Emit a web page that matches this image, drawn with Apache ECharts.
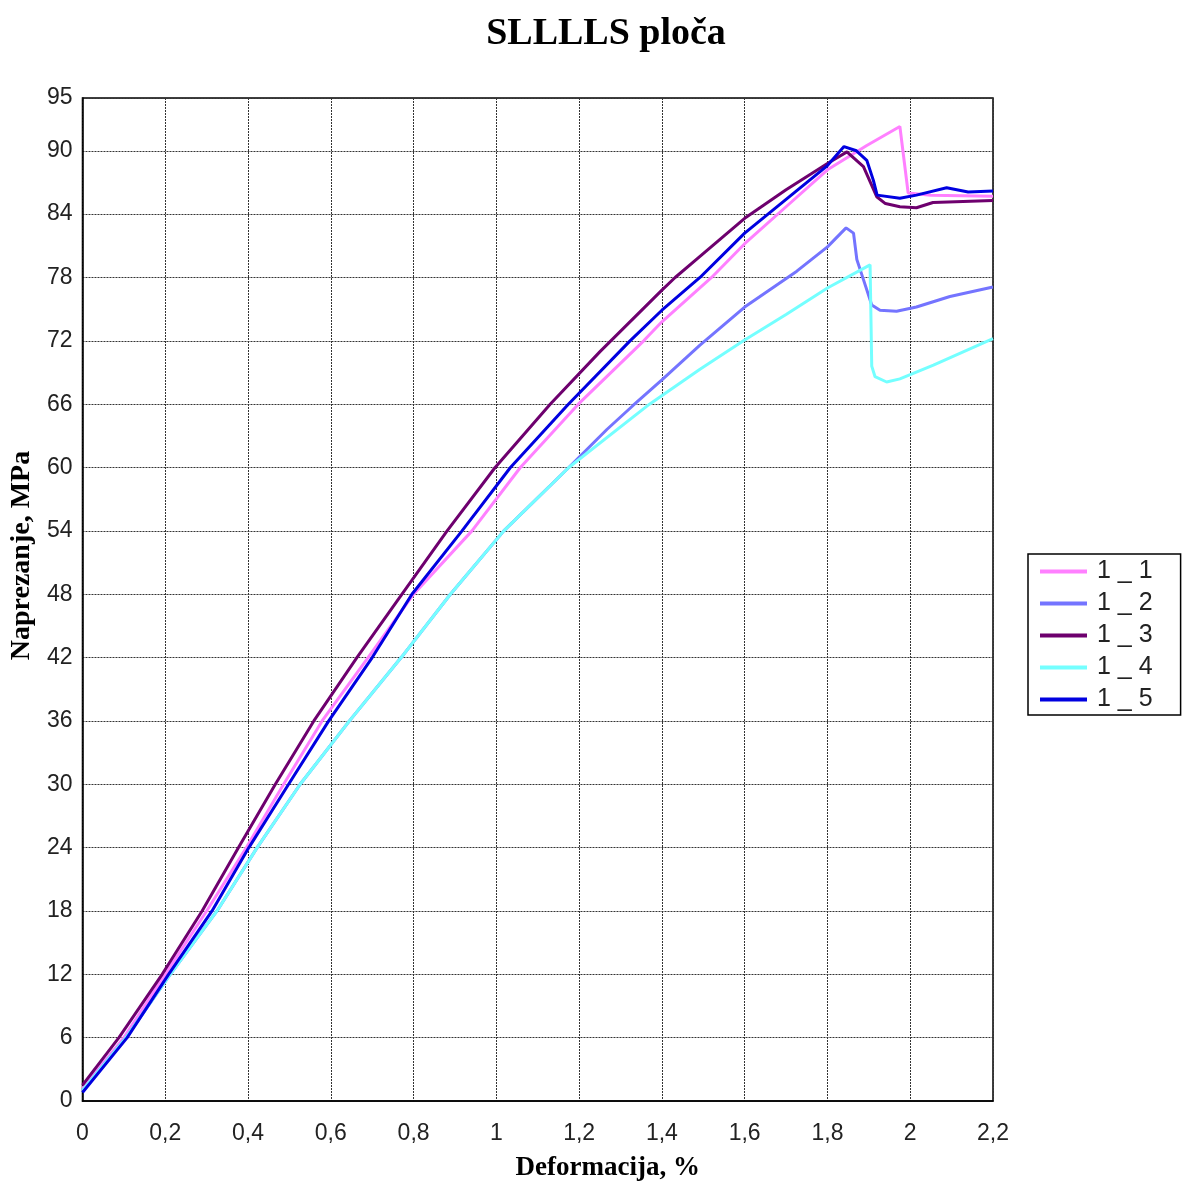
<!DOCTYPE html>
<html>
<head>
<meta charset="utf-8">
<script src="https://cdn.jsdelivr.net/npm/echarts@6/dist/echarts.min.js"></script>
<style>html,body{margin:0;padding:0;background:#fff;}#c{width:1183px;height:1187px;}</style>
</head>
<body>
<div id="c"></div>
<script>
// Series names
const seriesNames = ['1 _ 1', '1 _ 2', '1 _ 3', '1 _ 4', '1 _ 5'];
// Strain (%) and stress (MPa) per specimen
const x11 = [0, 0.1, 0.2, 0.30, 0.396, 0.486, 0.579, 0.69, 0.80, 0.941, 1.058, 1.198, 1.356, 1.4, 1.52, 1.6, 1.7, 1.8, 1.895, 1.975, 1.995, 2.05, 2.2];
const y11 = [1.2, 6, 12, 18, 24, 30, 36, 42, 48, 54, 60, 66, 72, 73.8, 78, 81.2, 84.7, 88.2, 90.5, 92.3, 86.0, 85.8, 85.7];
const x12 = [0, 0.105, 0.212, 0.325, 0.422, 0.526, 0.645, 0.77, 0.889, 1.018, 1.175, 1.267, 1.331, 1.4, 1.492, 1.6, 1.726, 1.8, 1.845, 1.863, 1.871, 1.887, 1.907, 1.927, 1.967, 2.015, 2.096, 2.2];
const y12 = [1.0, 6, 12, 18, 24, 30, 36, 42, 48, 54, 60, 63.6, 65.9, 68.3, 71.6, 75.2, 78.6, 80.9, 82.7, 82.2, 79.7, 77.8, 75.4, 74.9, 74.8, 75.2, 76.2, 77.1];
const x13 = [0, 0.088, 0.1925, 0.289, 0.377, 0.466, 0.559, 0.663, 0.772, 0.881, 0.997, 1.130, 1.251, 1.4, 1.432, 1.492, 1.6, 1.7, 1.8, 1.847, 1.887, 1.919, 1.94, 1.975, 2.015, 2.055, 2.2];
const y13 = [1.5, 6, 12, 18, 24, 30, 36, 42, 48, 54, 60, 66, 71.0, 76.8, 78, 80.0, 83.6, 86.3, 88.8, 89.9, 88.5, 85.65, 85.0, 84.7, 84.6, 85.1, 85.3];
const x14 = [0, 0.105, 0.212, 0.325, 0.422, 0.526, 0.645, 0.77, 0.889, 1.018, 1.175, 1.37, 1.492, 1.597, 1.7, 1.8, 1.903, 1.907, 1.915, 1.943, 1.975, 2.056, 2.2];
const y14 = [1.0, 6, 12, 18, 24, 30, 36, 42, 48, 54, 60, 66, 69.3, 72, 74.5, 77.0, 79.2, 69.6, 68.6, 68.1, 68.4, 69.7, 72.2];
const x15 = [0, 0.108, 0.208, 0.313, 0.402, 0.498, 0.595, 0.70, 0.796, 0.917, 1.034, 1.174, 1.323, 1.4, 1.492, 1.6, 1.7, 1.8, 1.84, 1.87, 1.895, 1.911, 1.92, 1.975, 2.015, 2.088, 2.14, 2.2];
const y15 = [0.8, 6, 12, 18, 24, 30, 36, 42, 48, 54, 60, 66, 72, 74.9, 78, 82.2, 85.4, 88.6, 90.4, 90.0, 89.1, 87.2, 85.8, 85.5, 85.8, 86.5, 86.1, 86.2];
const colors = ['#ff80ff', '#7474ff', '#6e006e', '#74ffff', '#0000e0'];

const xs = [x11, x12, x13, x14, x15];
const ys = [y11, y12, y13, y14, y15];
const zip = (a, b) => a.map((v, i) => [v, b[i]]);
const fmt = v => String(Math.round(v * 10) / 10).replace('.', ',');

const chart = echarts.init(document.getElementById('c'));
chart.setOption({
  animation: false,
  title: {
    text: 'SLLLLS ploča', left: 601, textAlign: 'center', top: 10,
    textStyle: { fontFamily: 'Liberation Serif', fontWeight: 'bold', fontSize: 38, color: '#000' }
  },
  legend: {
    orient: 'vertical', left: 1028, top: 554,
    data: seriesNames,
    icon: 'rect', itemWidth: 47, itemHeight: 4, itemGap: 7,
    padding: [5, 28, 3, 12],
    borderColor: '#000', borderWidth: 1.5,
    textStyle: { fontFamily: 'Liberation Sans', fontSize: 25, lineHeight: 25, color: '#222', padding: [0, 0, 0, 5] }
  },
  grid: { left: 82, right: 190, top: 98, bottom: 86, show: true, borderColor: '#000', borderWidth: 1.5 },
  xAxis: {
    type: 'value', min: 0, max: 2.2, interval: 0.2,
    name: 'Deformacija, %', nameLocation: 'middle', nameGap: 54,
    nameTextStyle: { fontFamily: 'Liberation Serif', fontWeight: 'bold', fontSize: 27, color: '#000', padding: [0, 0, 0, 140] },
    axisLine: { lineStyle: { color: '#000', width: 1.5 } },
    axisTick: { show: false },
    axisLabel: { formatter: fmt, margin: 21, fontFamily: 'Liberation Sans', fontSize: 23, color: '#222' },
    splitLine: { lineStyle: { color: '#333', type: [2, 1], width: 1 } }
  },
  yAxis: {
    type: 'value', min: 0, max: 95, interval: 6,
    name: 'Naprezanje, MPa', nameLocation: 'middle', nameGap: 42, nameRotate: 90,
    nameTextStyle: { fontFamily: 'Liberation Serif', fontWeight: 'bold', fontSize: 28, color: '#000', padding: [0, 0, 0, 88] },
    axisLine: { lineStyle: { color: '#000', width: 1.5 } },
    axisTick: { show: false },
    axisLabel: { margin: 10, fontFamily: 'Liberation Sans', fontSize: 23, color: '#222' },
    splitLine: { lineStyle: { color: '#333', type: [2, 1], width: 1 } }
  },
  series: seriesNames.map((n, i) => ({
    name: n, type: 'line', data: zip(xs[i], ys[i]),
    showSymbol: false, symbol: 'none', smooth: false,
    lineStyle: { color: colors[i], width: 3 }, itemStyle: { color: colors[i] }
  }))
});
</script>
</body>
</html>
